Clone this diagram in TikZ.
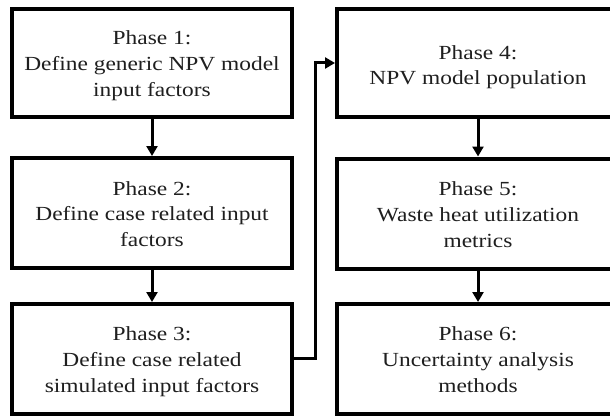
\documentclass[tikz,border=0pt]{standalone}
\usepackage{fontspec}
\setmainfont[FakeStretch=1.17]{Liberation Serif}
\usetikzlibrary{arrows.meta}
\begin{document}
\begin{tikzpicture}[x=1pt,y=-1pt,
  phasebox/.style={draw=black, line width=4pt, inner sep=0pt},
  leftbox/.style={phasebox, minimum width=280pt},
  rightbox/.style={phasebox, minimum width=282pt},
  phasetext/.style={align=center, inner sep=0pt, anchor=base,
    text=black!88, font=\fontsize{20}{25.8}\selectfont},
  threelines/.style={phasetext, yshift=-33.6pt},
  twolines/.style={phasetext, yshift=-22pt},
  flowarrow/.style={line width=3pt, -{Triangle[length=10pt,width=11pt]}}]
\useasboundingbox (0,0) rectangle (610,417);
\fill[white] (0,0) rectangle (610,417);
\node[leftbox, minimum height=108pt] (p1) at (152,63) {};
\node[leftbox, minimum height=110pt] (p2) at (152,213) {};
\node[leftbox, minimum height=109.5pt] (p3) at (152,358.75) {};
\node[rightbox, minimum height=108pt] (p4) at (478,63) {};
\node[rightbox, minimum height=110pt] (p5) at (478,213.5) {};
\node[rightbox, minimum height=109.5pt] (p6) at (478,358.75) {};
\node[threelines] (t1) at (p1.center) {Phase 1:\\Define generic NPV model\\input factors};
\node[threelines] (t2) at (p2.center) {Phase 2:\\Define case related input\\factors};
\node[threelines] (t3) at (p3.center) {Phase 3:\\Define case related\\simulated input factors};
\node[twolines] (t4) at (p4.center) {Phase 4:\\NPV model population};
\node[threelines] (t5) at (p5.center) {Phase 5:\\Waste heat utilization\\metrics};
\node[threelines] (t6) at (p6.center) {Phase 6:\\Uncertainty analysis\\methods};
\draw[flowarrow] (p1.south) -- (p2.north);
\draw[flowarrow] (p2.south) -- (p3.north);
\draw[flowarrow] (p4.south) -- (p5.north);
\draw[flowarrow] (p5.south) -- (p6.north);
\draw[flowarrow] (p3.east) -- ++(21,0) |- (p4.west);
\end{tikzpicture}
\end{document}
